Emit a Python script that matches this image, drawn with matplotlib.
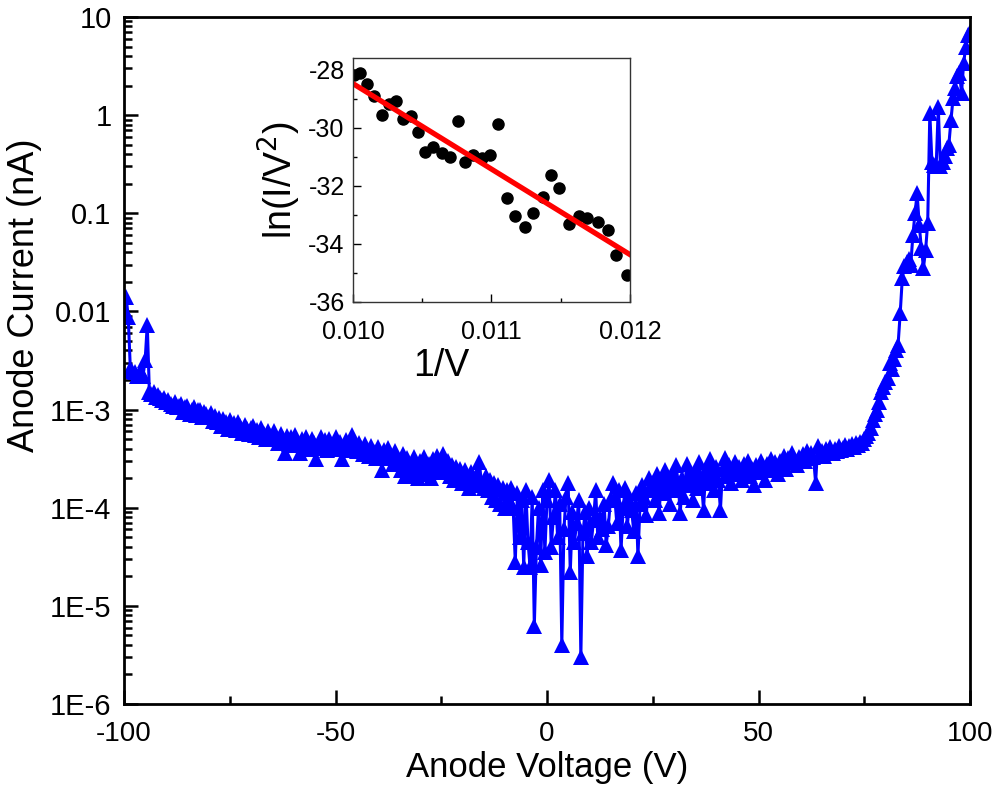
import numpy as np
import matplotlib
matplotlib.use("Agg")
import matplotlib.pyplot as plt
from matplotlib.ticker import FixedLocator, FixedFormatter, LogLocator, NullFormatter, MultipleLocator

plt.rcParams['font.family'] = ['Liberation Sans', 'DejaVu Sans']
plt.rcParams['axes.unicode_minus'] = False

# anode voltage (V), 0.5 V steps from -100 to 100
voltage = np.arange(-100, 100.25, 0.5)

# anode current (nA), one row per 5 V
current = [
    9.5e-3, 1.4e-2, 8.8e-3, 2.6e-3, 2.5e-3, 2.4e-3, 2.2e-3, 2.3e-3, 2.4e-3, 2.2e-3,
    3.2e-3, 7.3e-3, 1.5e-3, 1.45e-3, 1.5e-3, 1.35e-3, 1.4e-3, 1.3e-3, 1.25e-3, 1.32e-3,
    1.2e-3, 1.25e-3, 1.15e-3, 1.1e-3, 1.2e-3, 1.05e-3, 1.1e-3, 1.15e-3, 9.5e-4, 1.05e-3,
    1.1e-3, 9.0e-4, 1.0e-3, 1.05e-3, 8.8e-4, 9.8e-4, 1.0e-3, 8.5e-4, 9.5e-4, 9.0e-4,
    8.5e-4, 9.2e-4, 7.6e-4, 8.7e-4, 7.4e-4, 8.2e-4, 6.8e-4, 8.0e-4, 7.5e-4, 6.4e-4,
    7.8e-4, 6.6e-4, 7.3e-4, 6.2e-4, 7.5e-4, 6.8e-4, 5.8e-4, 7.0e-4, 6.3e-4, 5.6e-4,
    6.5e-4, 6.8e-4, 5.5e-4, 6.2e-4, 5.2e-4, 6.5e-4, 5.6e-4, 5.0e-4, 6.0e-4, 5.4e-4,
    5.0e-4, 6.0e-4, 5.3e-4, 4.6e-4, 5.6e-4, 5.0e-4, 3.6e-4, 5.4e-4, 4.5e-4, 5.2e-4,
    4.4e-4, 5.5e-4, 4.6e-4, 3.6e-4, 5.0e-4, 4.2e-4, 5.3e-4, 4.5e-4, 4.0e-4, 5.0e-4,
    4.6e-4, 3.1e-4, 4.3e-4, 5.2e-4, 4.1e-4, 4.9e-4, 3.9e-4, 5.0e-4, 4.4e-4, 4.0e-4,
    5.3e-4, 4.2e-4, 4.7e-4, 3.1e-4, 4.3e-4, 4.9e-4, 3.9e-4, 4.6e-4, 5.5e-4, 4.1e-4,
    3.8e-4, 4.6e-4, 4.1e-4, 3.5e-4, 4.5e-4, 3.9e-4, 3.4e-4, 4.3e-4, 3.7e-4, 3.2e-4,
    4.2e-4, 3.5e-4, 2.4e-4, 3.9e-4, 3.3e-4, 4.1e-4, 3.2e-4, 2.8e-4, 3.8e-4, 3.1e-4,
    2.9e-4, 2.4e-4, 3.5e-4, 2.1e-4, 3.2e-4, 2.6e-4, 2.2e-4, 3.3e-4, 2.7e-4, 2.0e-4,
    3.0e-4, 2.4e-4, 3.3e-4, 2.2e-4, 2.8e-4, 2.0e-4, 3.1e-4, 2.5e-4, 3.4e-4, 2.3e-4,
    2.9e-4, 3.5e-4, 2.4e-4, 3.0e-4, 2.1e-4, 2.7e-4, 1.9e-4, 2.6e-4, 2.0e-4, 2.5e-4,
    1.8e-4, 2.4e-4, 2.0e-4, 1.6e-4, 2.3e-4, 1.9e-4, 1.7e-4, 2.2e-4, 2.9e-4, 1.8e-4,
    1.6e-4, 2.1e-4, 1.5e-4, 1.9e-4, 1.3e-4, 1.8e-4, 1.2e-4, 1.7e-4, 1.1e-4, 1.6e-4,
    1.0e-4, 1.5e-4, 1.2e-4, 1.6e-4, 1.0e-4, 2.8e-5, 1.4e-4, 5.0e-5, 1.2e-4, 2.5e-5,
    1.5e-4, 4.5e-5, 2.5e-5, 1.3e-4, 6.3e-6, 4.0e-5, 1.0e-4, 2.6e-5, 1.5e-4, 3.5e-5,
    1.2e-4, 1.9e-4, 4.0e-5, 8.0e-5, 1.5e-4, 5.0e-5, 1.1e-4, 4.0e-6, 6.0e-5, 1.3e-4,
    1.8e-4, 2.2e-5, 9.0e-5, 4.5e-5, 7.0e-5, 1.2e-4, 3.0e-6, 5.5e-5, 9.0e-5, 3.2e-5,
    1.0e-4, 4.5e-5, 7.5e-5, 1.5e-4, 5.0e-5, 8.0e-5, 6.0e-5, 1.1e-4, 4.2e-5, 6.5e-5,
    1.2e-4, 1.8e-4, 1.3e-4, 7.0e-5, 1.5e-4, 3.7e-5, 1.0e-4, 1.6e-4, 6.5e-5, 1.2e-4,
    9.5e-5, 5.8e-5, 1.4e-4, 3.2e-5, 1.1e-4, 1.7e-4, 1.3e-4, 8.5e-5, 2.0e-4, 1.5e-4,
    1.8e-4, 1.2e-4, 2.2e-4, 8.8e-5, 1.9e-4, 1.4e-4, 2.4e-4, 1.6e-4, 1.1e-4, 2.1e-4,
    1.5e-4, 2.7e-4, 1.8e-4, 8.8e-5, 2.0e-4, 1.3e-4, 2.8e-4, 1.7e-4, 2.2e-4, 1.2e-4,
    2.3e-4, 1.6e-4, 2.9e-4, 1.9e-4, 9.5e-5, 2.4e-4, 1.8e-4, 3.1e-4, 2.0e-4, 1.5e-4,
    2.6e-4, 1.9e-4, 9.5e-5, 2.5e-4, 3.2e-4, 2.1e-4, 2.7e-4, 1.8e-4, 2.3e-4, 2.9e-4,
    2.2e-4, 2.6e-4, 1.9e-4, 2.8e-4, 2.4e-4, 3.0e-4, 2.1e-4, 2.5e-4, 1.7e-4, 2.7e-4,
    2.3e-4, 3.0e-4, 2.6e-4, 1.9e-4, 2.8e-4, 2.4e-4, 3.1e-4, 2.6e-4, 2.9e-4, 2.2e-4,
    3.0e-4, 2.7e-4, 3.4e-4, 2.5e-4, 3.2e-4, 2.9e-4, 3.6e-4, 3.0e-4, 2.7e-4, 3.3e-4,
    3.1e-4, 3.5e-4, 3.0e-4, 3.8e-4, 3.2e-4, 3.6e-4, 3.3e-4, 1.8e-4, 4.3e-4, 3.5e-4,
    3.8e-4, 3.4e-4, 4.0e-4, 3.7e-4, 4.2e-4, 3.6e-4, 4.0e-4, 3.8e-4, 4.3e-4, 3.9e-4,
    4.1e-4, 4.4e-4, 4.0e-4, 4.3e-4, 4.5e-4, 4.2e-4, 4.6e-4, 4.4e-4, 4.7e-4, 4.6e-4,
    5.0e-4, 5.4e-4, 5.8e-4, 6.5e-4, 7.8e-4, 9.0e-4, 1.0e-3, 1.2e-3, 1.5e-3, 1.7e-3,
    1.9e-3, 2.1e-3, 3.0e-3, 2.6e-3, 3.3e-3, 4.0e-3, 4.6e-3, 9.6e-3, 2.2e-2, 2.9e-2,
    3.2e-2, 3.4e-2, 3.0e-2, 6.0e-2, 1.0e-1, 1.6e-1, 7.6e-2, 4.4e-2, 2.8e-2, 4.2e-2,
    8.0e-2, 1.05, 0.33, 0.31, 0.30, 1.2, 0.30, 0.33, 0.38, 0.46,
    0.50, 0.89, 1.5, 1.9, 2.5, 2.7, 1.7, 3.4, 5.0, 6.5, 7.0,
]

# inset: Fowler-Nordheim plot
inv_v = [0.01001, 0.01005, 0.01010, 0.01015, 0.01021, 0.01026, 0.01031, 0.01036,
         0.01042, 0.01047, 0.01052, 0.01058, 0.01064, 0.01070, 0.01076, 0.01081,
         0.01087, 0.01093, 0.01099, 0.01105, 0.01111, 0.01117, 0.01124, 0.01130,
         0.01137, 0.01143, 0.01149, 0.01156, 0.01163, 0.01169, 0.01177, 0.01184,
         0.01190, 0.01198]
ln_iv2 = [-28.17, -28.11, -28.48, -28.90, -29.58, -29.18, -29.07, -29.69,
          -29.60, -30.16, -30.82, -30.67, -30.87, -31.00, -29.77, -31.19,
          -30.93, -31.04, -30.93, -29.88, -32.43, -33.05, -33.43, -32.92,
          -32.39, -31.63, -32.08, -33.32, -33.05, -33.10, -33.24, -33.52,
          -34.37, -35.06]

ytick_vals = [1e-6, 1e-5, 1e-4, 1e-3, 0.01, 0.1, 1, 10]
ytick_labels = ['1E-6', '1E-5', '1E-4', '1E-3', '0.01', '0.1', '1', '10']

fig = plt.figure(figsize=(9.96, 7.93), dpi=100)
ax = fig.add_axes([0.1245, 0.1122, 0.8494, 0.8664])

ax.plot(voltage, current, '-^', color='#0000ff', lw=2.2, markersize=11,
        markeredgewidth=0)
ax.set_yscale('log')
ax.set_xlim(-100, 100)
ax.set_ylim(1e-6, 10)

ax.yaxis.set_major_locator(FixedLocator(ytick_vals))
ax.yaxis.set_major_formatter(FixedFormatter(ytick_labels))
ax.yaxis.set_minor_locator(LogLocator(base=10, subs=np.arange(2, 10), numticks=20))
ax.yaxis.set_minor_formatter(NullFormatter())
ax.xaxis.set_major_locator(MultipleLocator(50))
ax.xaxis.set_minor_locator(MultipleLocator(25))

ax.tick_params(which='both', direction='in', width=1.8)
ax.tick_params(axis='x', which='major', labelsize=20, pad=12)
ax.tick_params(axis='y', which='major', labelsize=21, pad=9)
ax.tick_params(which='major', length=10)
ax.tick_params(which='minor', length=6)
for s in ax.spines.values():
    s.set_linewidth(2.0)

ax.set_xlabel('Anode Voltage (V)', fontsize=25, labelpad=3)
ax.set_ylabel('Anode Current (nA)', fontsize=26)
ax.yaxis.set_label_coords(-0.097, 0.595)

# inset
axi = fig.add_axes([0.3544, 0.6192, 0.2781, 0.3077])
axi.plot(inv_v, ln_iv2, 'o', color='black', markersize=8)
slope, intercept = np.polyfit(inv_v, ln_iv2, 1)
fit_x = np.array([0.010, 0.012])
axi.plot(fit_x, slope * fit_x + intercept, color='#ff0000', lw=3.8)
axi.set_xlim(0.010, 0.012)
axi.set_ylim(-36, -27.6)
axi.set_xticks([0.010, 0.011, 0.012])
axi.set_xticklabels(['0.010', '0.011', '0.012'])
axi.xaxis.set_minor_locator(MultipleLocator(0.0005))
axi.yaxis.set_major_locator(MultipleLocator(2))
axi.yaxis.set_minor_locator(MultipleLocator(1))
axi.tick_params(which='both', direction='in', labelsize=18, width=1)
axi.tick_params(which='major', length=6)
axi.tick_params(axis='x', which='major', pad=13)
axi.tick_params(axis='y', which='major', pad=6)
axi.tick_params(which='minor', length=3)
for s in axi.spines.values():
    s.set_linewidth(1.0)
    s.set_color('#333333')
axi.set_xlabel('1/V', fontsize=27)
axi.xaxis.set_label_coords(0.318, -0.19)
axi.set_ylabel(r'ln(I/V$^2$)', fontsize=27, labelpad=4)

fig.savefig('out.png', dpi=100)
